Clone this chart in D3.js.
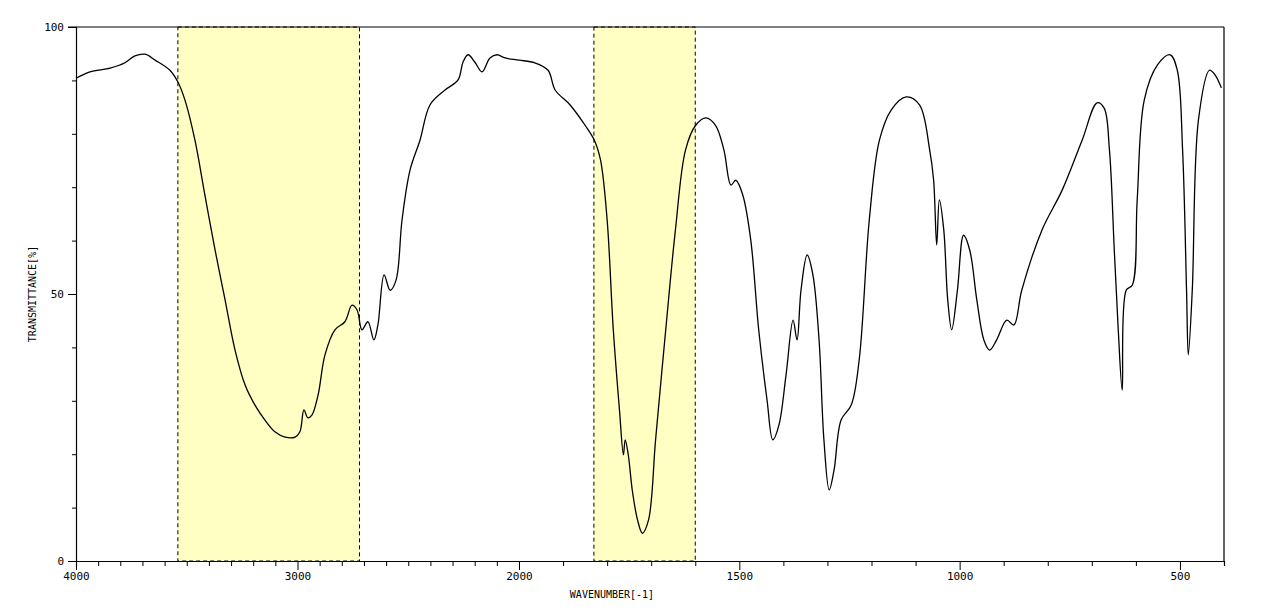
<!DOCTYPE html>
<html><head><meta charset="utf-8">
<script src="https://cdn.jsdelivr.net/npm/d3@7"></script>
<style>body{margin:0;background:#fff}text{font-family:"DejaVu Sans Mono",monospace;font-size:10px;fill:#000}</style>
</head><body><svg id="c" width="1263" height="616"></svg>
<script>
const wavenumbers=[4000,3937,3846,3779,3734,3688,3643,3576,3540,3508,3463,3418,3372,3327,3282,3237,3192,3147,3102,3056,3011,2989,2971,2953,2935,2907,2876,2831,2786,2754,2731,2709,2682,2655,2637,2609,2582,2555,2528,2492,2447,2402,2334,2275,2253,2230,2199,2167,2131,2099,2063,2000,1964,1934,1918,1884,1850,1829,1815,1800,1786,1772,1763,1759,1752,1743,1731,1720,1706,1690,1667,1645,1622,1599,1576,1554,1535,1519,1508,1492,1474,1456,1437,1424,1410,1394,1378,1369,1360,1346,1333,1319,1308,1296,1285,1269,1246,1228,1205,1182,1155,1121,1091,1068,1059,1052,1046,1036,1027,1018,1005,991,977,961,945,932,916,893,877,859,813,767,722,688,672,660,649,640,631,622,608,597,581,551,522,506,494,485,481,472,458,433,420,406];
const transmittance=[90.4,91.6,92.3,93.3,94.6,94.9,93.8,91.9,89.7,86.3,78.8,68.5,58.2,48.9,39.5,33.0,29.2,26.4,24.2,23.2,23.2,24.2,28.3,26.8,27.3,31.1,38.6,43.3,44.8,47.9,47.0,43.3,44.8,41.4,44.2,53.6,50.7,52.6,63.9,73.2,78.8,85.4,88.2,90.1,93.4,94.8,93.4,91.6,94.2,94.8,94.2,93.8,93.3,91.9,88.2,85.4,81.6,78.8,75.1,63.9,43.3,28.3,19.9,22.7,19.9,13.3,7.7,5.2,7.7,22.7,43.3,62.0,77.0,81.6,83.0,81.6,77.0,70.4,71.3,68.5,60.1,43.3,30.1,22.7,25.5,34.8,45.1,41.4,50.7,57.3,53.6,41.4,22.7,13.3,17.0,26.4,29.2,37.6,63.9,78.8,84.5,86.9,85.4,77.0,71.3,59.2,67.6,62.0,48.9,43.3,50.7,61.0,58.2,48.9,41.4,39.5,41.4,45.1,44.2,50.7,62.0,69.5,78.8,85.8,84.8,77.0,58.2,43.3,32.0,50.7,51.7,67.6,86.3,92.9,94.8,91.9,77.0,50.7,38.6,50.7,82.6,91.9,91.0,88.6];
const bands=[[3540,2720],[1830,1600]];
const xTickLabels=[4000,3000,2000,1500,1000,500];
const yTickLabels=[0,50,100];

const svg=d3.select("#c");
const x=d3.scaleLinear().domain([4000,2000,400]).range([76,519,1224]);
const y=d3.scaleLinear().domain([0,100]).range([561,27]);

svg.selectAll("rect.band").data(bands).join("rect")
 .attr("x",d=>x(d[0])).attr("width",d=>x(d[1])-x(d[0]))
 .attr("y",y(100)).attr("height",y(0)-y(100))
 .attr("fill","#ffffc4").attr("stroke","#000").attr("stroke-dasharray","4,3").attr("stroke-width",1);

svg.append("line").attr("x1",68).attr("x2",x(400)).attr("y1",y(100)).attr("y2",y(100)).attr("stroke","#000").attr("stroke-width",1.2);
svg.append("line").attr("x1",x(400)).attr("x2",x(400)).attr("y1",y(100)).attr("y2",y(0)).attr("stroke","#000").attr("stroke-width",1.2);

const xMinor=d3.range(4000,2000,-100).concat(d3.range(2000,399,-100));
const xa=d3.axisBottom(x).tickValues(xMinor).tickSize(5).tickFormat(d=>xTickLabels.includes(d)?d:"");
const gx=svg.append("g").attr("transform",`translate(0,${y(0)})`).call(xa);
gx.selectAll(".tick line").attr("y2",d=>xTickLabels.includes(d)?9:5);
gx.selectAll(".tick text").attr("dy","1em").style("font-size","11px");
const ya=d3.axisLeft(y).tickValues(d3.range(0,101,10)).tickSize(4).tickFormat(d=>yTickLabels.includes(d)?d:"");
const gy=svg.append("g").attr("transform",`translate(${x(4000)},0)`).call(ya);
gy.selectAll(".tick line").attr("x2",d=>yTickLabels.includes(d)?-8:-4);
gy.selectAll(".tick text").attr("x",-12).style("font-size","11px");
svg.selectAll(".domain").attr("stroke-width",1.2);

svg.append("path").datum(d3.zip(wavenumbers,transmittance))
 .attr("d",d3.line().curve(d3.curveCatmullRom.alpha(0.5)).x(d=>x(d[0])).y(d=>y(d[1])))
 .attr("fill","none").attr("stroke","#000").attr("stroke-width",1.3);

svg.append("text").attr("x",612).attr("y",598).attr("text-anchor","middle").text("WAVENUMBER[-1]");
svg.append("text").attr("transform","translate(36,294) rotate(-90)").attr("text-anchor","middle").text("TRANSMITTANCE[%]");
</script></body></html>
